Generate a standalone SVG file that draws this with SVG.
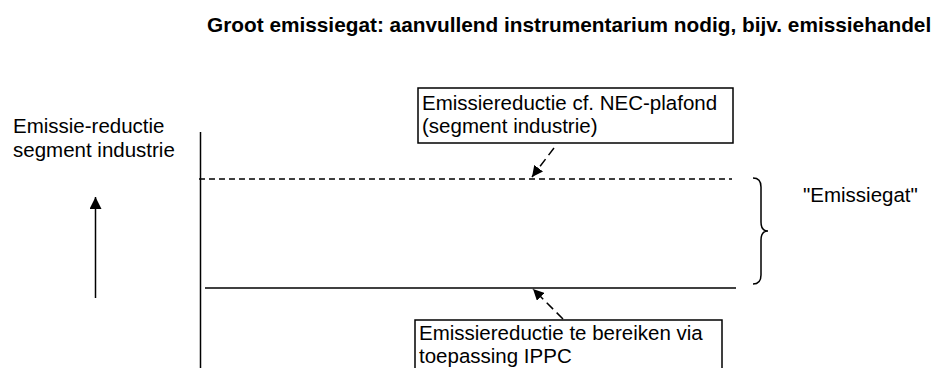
<svg xmlns="http://www.w3.org/2000/svg" width="936" height="368" viewBox="0 0 936 368">
<style>
text{font-family:"Liberation Sans",Arial,sans-serif;font-size:20.5px;fill:#000}
.title{font-weight:bold;font-size:20.8px}
.ln{stroke:#000;stroke-width:1.5;fill:none}
.dash{stroke-dasharray:6,4}
.box{fill:#fff;stroke:#000;stroke-width:1.5}
</style>
<defs>
<marker id="ah" viewBox="0 0 11 11" refX="11" refY="5.5" markerWidth="11" markerHeight="11" markerUnits="userSpaceOnUse" orient="auto">
<path d="M0,0 L11,5.5 L0,11 z" fill="#000"/>
</marker>
<marker id="ahBig" viewBox="0 0 12 12" refX="12" refY="6" markerWidth="12" markerHeight="12" markerUnits="userSpaceOnUse" orient="auto">
<path d="M0,0 L12,6 L0,12 z" fill="#000"/>
</marker>
</defs>
<text class="title" x="207" y="32">Groot emissiegat: aanvullend instrumentarium nodig, bijv. emissiehandel</text>
<g id="axis-label">
<text x="13" y="133">Emissie-reductie</text>
<text x="13" y="157">segment industrie</text>
</g>
<g id="axis">
<line class="ln" x1="200.5" y1="132" x2="200.5" y2="368"/>
</g>
<g id="nec-level">
<line class="ln dash" x1="199" y1="179" x2="732" y2="179"/>
</g>
<g id="ippc-level">
<line class="ln" x1="205" y1="288" x2="736" y2="288"/>
</g>
<g id="gap-brace">
<path class="ln" d="M753,178 Q761,178 761,187 L761,222 Q761,231 768,231 Q761,231 761,240 L761,275 Q761,284 753,284"/>
<text x="803" y="202">"Emissiegat"</text>
</g>
<g id="box-nec">
<rect class="box" x="418" y="88" width="315" height="55"/>
<text x="422" y="110">Emissiereductie cf. NEC-plafond</text>
<text x="422" y="133">(segment industrie)</text>
</g>
<g id="box-ippc">
<rect class="box" x="415" y="320" width="307" height="52"/>
<text x="419" y="340">Emissiereductie te bereiken via</text>
<text x="419" y="363">toepassing IPPC</text>
</g>
<g id="connectors">
<line class="ln" x1="95.5" y1="298" x2="95.5" y2="197" marker-end="url(#ahBig)"/>
<line class="ln" x1="554" y1="148" x2="532" y2="177" stroke-dasharray="9,5" marker-end="url(#ah)"/>
<line class="ln" x1="563" y1="319" x2="533" y2="289" stroke-dasharray="9,5" marker-end="url(#ah)"/>
</g>
</svg>
